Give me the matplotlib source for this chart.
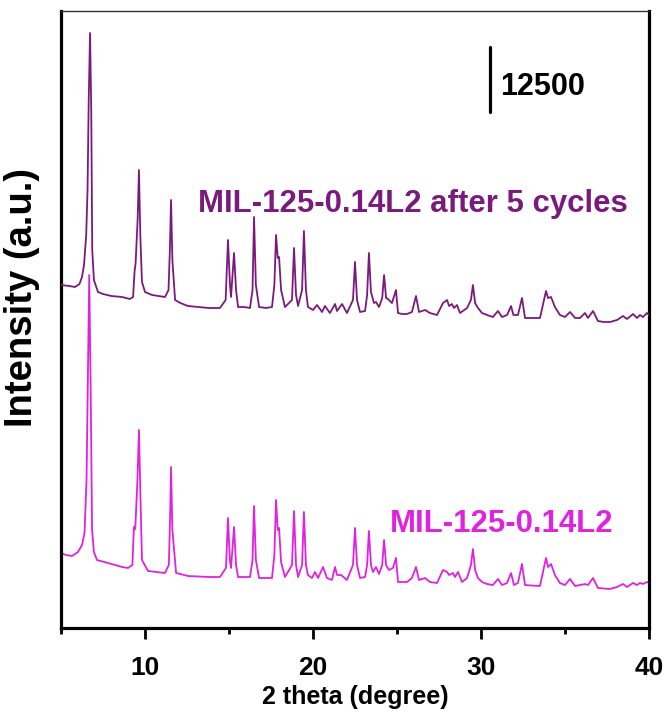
import matplotlib
matplotlib.use("Agg")
import matplotlib.pyplot as plt
import matplotlib.font_manager as fm
from matplotlib.ticker import MultipleLocator

# ---------------- data ----------------
after_x = [5.00, 5.50, 5.83, 6.10, 6.25, 6.37, 6.50, 6.58, 6.65, 6.73, 6.80, 6.86, 6.96, 7.20, 7.50,
           8.00, 8.63, 9.10, 9.29, 9.38, 9.44, 9.56, 9.64, 9.72, 9.82, 10.00, 10.42, 11.19, 11.40, 11.48,
           11.55, 11.63, 11.79, 12.10, 12.56, 13.20, 13.80, 14.46, 14.80, 14.94, 15.06, 15.12, 15.30, 15.42,
           15.54, 15.90, 16.25, 16.40, 16.49, 16.60, 16.79, 17.20, 17.56, 17.70, 17.80, 17.90, 17.98, 18.10,
           18.33, 18.75, 18.87, 18.99, 19.11, 19.35, 19.46, 19.58, 19.70, 20.00, 20.24, 20.54, 20.71, 21.01,
           21.31, 21.43, 21.73, 22.02, 22.38, 22.50, 22.62, 22.80, 23.10, 23.22, 23.33, 23.45, 23.63, 23.75,
           23.93, 24.12, 24.23, 24.35, 24.46, 24.70, 24.94, 25.06, 25.30, 25.60, 25.89, 26.13, 26.31, 26.67,
           26.96, 27.38, 27.74, 27.98, 28.10, 28.27, 28.39, 28.57, 28.75, 29.17, 29.40, 29.52, 29.65, 29.82,
           30.06, 30.36, 30.71, 31.01, 31.25, 31.55, 31.79, 31.93, 32.20, 32.44, 32.62, 33.00, 33.51, 33.87,
           33.99, 34.17, 34.40, 34.70, 35.00, 35.30, 35.60, 35.89, 36.19, 36.37, 36.67, 36.96, 37.30, 37.68,
           38.10, 38.45, 38.69, 39.05, 39.29, 39.46, 39.64, 39.88, 40.00]
after_y = [65856, 65664, 65472, 66048, 67392, 69696, 75456, 84096, 101376, 114240, 99456, 72576, 66816,
           64512, 64128, 63744, 63552, 63168, 63552, 68500, 70000, 78336, 87936, 75456, 66432, 64512, 63936,
           63552, 64896, 72576, 82176, 70656, 62976, 62400, 61824, 61632, 61440, 61440, 62976, 74496, 65856,
           63552, 72000, 64896, 61632, 61632, 61440, 64896, 78912, 65856, 61632, 61440, 61632, 65856, 75456,
           71040, 71232, 64896, 61632, 62976, 72960, 63936, 61824, 64896, 76224, 64896, 61632, 61056, 62016,
           60672, 61824, 60480, 62208, 60864, 62208, 60480, 62976, 70272, 62976, 60672, 60864, 63936, 72000,
           64512, 62400, 62592, 61632, 63360, 67776, 63360, 63168, 62400, 64896, 60480, 60288, 60288, 60672,
           63744, 60672, 61056, 60480, 60096, 62400, 62976, 61824, 62208, 61440, 62016, 60480, 61440, 62976,
           65856, 62400, 61440, 60480, 60096, 59712, 60864, 59712, 60096, 61824, 60096, 60096, 63360, 59520,
           59520, 59520, 64704, 63360, 63552, 61632, 60096, 59712, 60672, 59520, 59520, 60480, 59520, 60864,
           58944, 58752, 58752, 59136, 59904, 59328, 60288, 59520, 60096, 59712, 60480, 60096]

fresh_x = [5.00, 5.30, 5.65, 6.01, 6.25, 6.40, 6.52, 6.60, 6.68, 6.76, 6.85, 6.96, 7.14, 7.80, 8.63,
           8.99, 9.25, 9.34, 9.42, 9.55, 9.64, 9.72, 9.82, 10.18, 10.70, 11.19, 11.42, 11.49, 11.55, 11.63,
           11.85, 12.56, 13.20, 13.80, 14.46, 14.82, 14.94, 15.05, 15.12, 15.30, 15.42, 15.54, 15.90, 16.25,
           16.40, 16.49, 16.60, 16.79, 17.20, 17.56, 17.70, 17.80, 17.90, 17.98, 18.10, 18.33, 18.75, 18.87,
           18.99, 19.11, 19.35, 19.46, 19.58, 19.70, 19.94, 20.12, 20.30, 20.60, 20.83, 21.13, 21.31, 21.43,
           21.67, 22.02, 22.38, 22.50, 22.62, 22.80, 23.10, 23.22, 23.33, 23.45, 23.57, 23.75, 23.93, 24.12,
           24.23, 24.35, 24.52, 24.76, 24.94, 25.06, 25.30, 25.60, 25.89, 26.13, 26.31, 26.67, 26.96, 27.38,
           27.74, 27.98, 28.10, 28.33, 28.45, 28.63, 28.87, 29.17, 29.40, 29.52, 29.65, 29.82, 30.06, 30.36,
           30.71, 31.01, 31.25, 31.55, 31.79, 31.96, 32.20, 32.44, 32.62, 33.00, 33.51, 33.87, 33.99, 34.17,
           34.40, 34.70, 35.00, 35.30, 35.60, 35.89, 36.19, 36.37, 36.67, 36.96, 37.30, 37.68, 38.10, 38.45,
           38.69, 39.05, 39.29, 39.46, 39.64, 39.88, 40.00]
fresh_y = [14400, 14016, 13824, 14592, 15936, 18240, 28416, 47616, 67776, 47616, 18816, 14592, 13056,
           12480, 11712, 11520, 12096, 19400, 19000, 28416, 38016, 26496, 13056, 10944, 10752, 10560, 12096,
           20736, 30912, 18816, 10560, 9984, 9888, 9792, 9792, 11520, 21120, 13056, 11520, 19392, 12096,
           9792, 9792, 9792, 13056, 23424, 13056, 9600, 9600, 9600, 14016, 24576, 18816, 19200, 12672, 9792,
           12096, 22464, 12096, 9792, 12096, 22272, 12096, 10176, 9600, 10752, 9600, 11712, 9600, 9216,
           11712, 10176, 10176, 9216, 12096, 19200, 12096, 9600, 9792, 12096, 18624, 12096, 10752, 11712,
           10368, 12096, 16896, 12096, 11136, 11520, 13440, 8832, 8832, 8832, 9600, 11712, 9216, 9600, 8832,
           8640, 11136, 10752, 10176, 10560, 9792, 10752, 8832, 9600, 12096, 15168, 11136, 9600, 8832, 8448,
           8256, 9408, 8256, 8640, 10560, 8256, 8640, 12288, 8256, 8160, 8064, 13440, 11712, 12288, 10176,
           8640, 8256, 9408, 8064, 8256, 8448, 8256, 9600, 7680, 7584, 7488, 7872, 8448, 7872, 8640, 8256,
           8640, 8448, 8832, 8640]

label_after = "MIL-125-0.14L2 after 5 cycles"
label_fresh = "MIL-125-0.14L2"
scale_value = 12500
x_label = "2 theta (degree)"
y_label = "Intensity (a.u.)"
x_range = (5, 40)
y_range = (0, 118464)

# ---------------- fonts ----------------
names = {f.name for f in fm.fontManager.ttflist}
main_font = "Liberation Sans" if "Liberation Sans" in names else "DejaVu Sans"
if "Liberation Sans Narrow" in names:
    axis_font = "Liberation Sans Narrow"
    tick_size, xlab_size = 22, 22
else:
    axis_font = main_font
    tick_size, xlab_size = 19, 18

purple = "#7a1a7c"
magenta = "#e022e0"

fig = plt.figure(figsize=(6.68, 7.15), dpi=100)
ax = fig.add_axes([61 / 668, 1 - 628 / 715, 588 / 668, 617 / 715])

ax.plot(fresh_x, fresh_y, color=magenta, lw=1.3, zorder=2, solid_joinstyle="round")
ax.plot(after_x, after_y, color=purple, lw=1.3, zorder=3, solid_joinstyle="round")

ax.set_xlim(*x_range)
ax.set_ylim(*y_range)
ax.set_yticks([])
ax.xaxis.set_major_locator(MultipleLocator(10))
ax.xaxis.set_minor_locator(MultipleLocator(5))
ax.tick_params(axis="x", which="major", direction="out", length=8, width=2, pad=12)
ax.tick_params(axis="x", which="minor", direction="out", length=4, width=2)
for lab in ax.get_xticklabels():
    lab.set_fontfamily(axis_font)
    lab.set_fontweight("bold")
    lab.set_fontsize(tick_size)

for s in ("left", "right", "bottom"):
    ax.spines[s].set_linewidth(2.3)
    ax.spines[s].set_color("black")
ax.spines["top"].set_linewidth(1.0)
ax.spines["top"].set_color("#333333")

ax.set_xlabel(x_label, fontfamily=axis_font, fontweight="bold", fontsize=xlab_size, labelpad=4)
ax.set_ylabel(y_label, fontfamily=main_font, fontweight="bold", fontsize=27.5)
ax.yaxis.set_label_coords(-0.036, 0.535)

# sample labels
ax.text(13.15, 79872, label_after, color=purple, fontfamily=main_font, fontweight="bold",
        fontsize=22.4, ha="left", va="baseline")
ax.text(24.58, 18432, label_fresh, color=magenta, fontfamily=main_font, fontweight="bold",
        fontsize=22.4, ha="left", va="baseline")

# scale bar
ax.plot([30.54, 30.54], [99072, 99072 + scale_value], color="black", lw=2.3, solid_capstyle="round")
ax.text(31.13, 102336, str(scale_value), color="black", fontfamily=main_font, fontweight="bold",
        fontsize=22, ha="left", va="baseline")

fig.savefig("out.png", dpi=100)
